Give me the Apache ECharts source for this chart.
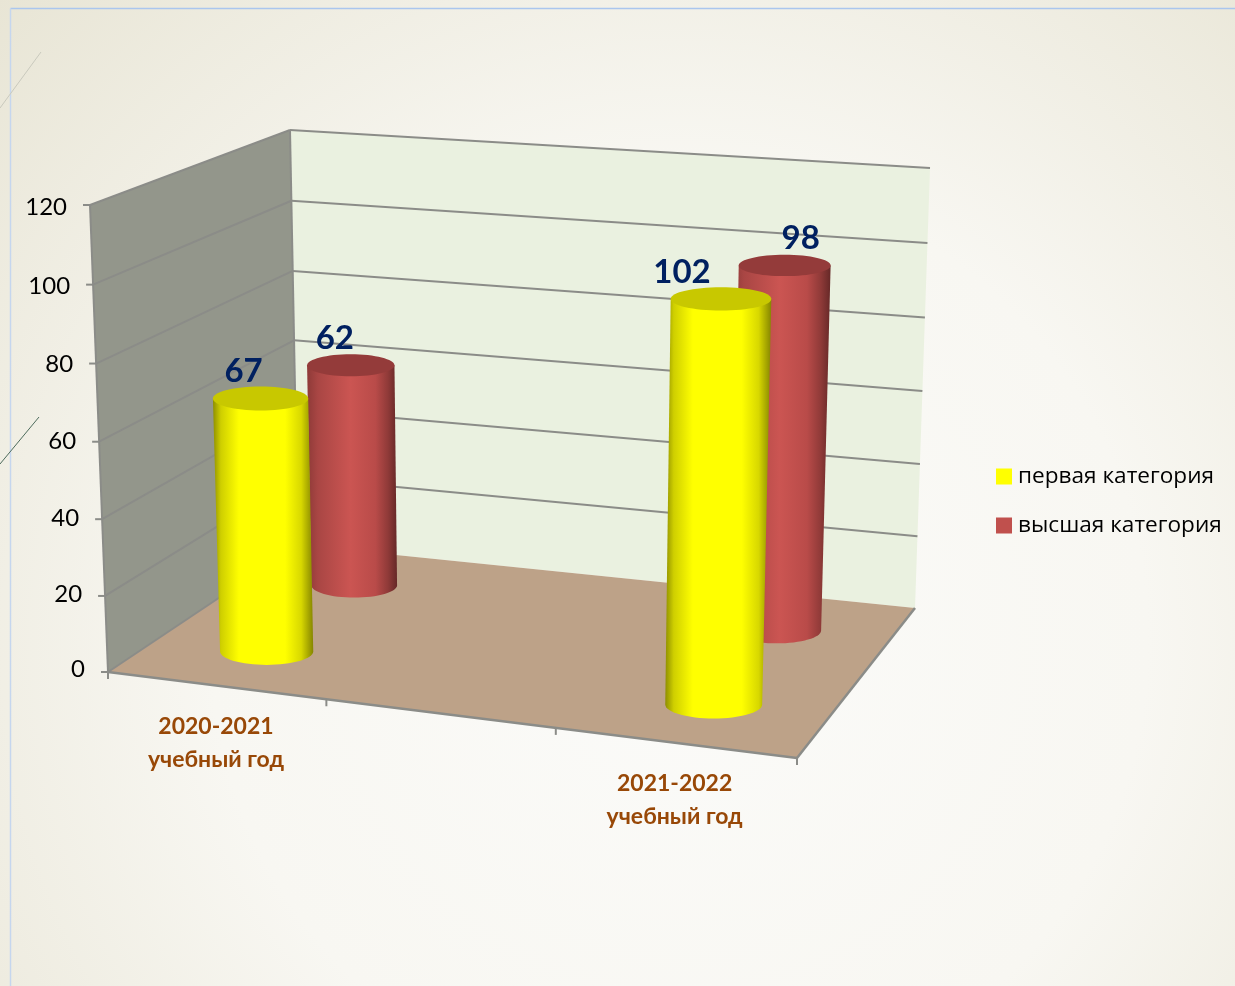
<!DOCTYPE html>
<html>
<head>
<meta charset="utf-8">
<title>Категории</title>
<style>html,body{margin:0;padding:0;background:#f8f7f2}#main{width:1235px;height:986px}</style>
<script src="https://cdn.jsdelivr.net/npm/echarts@6/dist/echarts.min.js"></script>
</head>
<body>
<div id="main"></div>
<script>
var categories = ['2020-2021\nучебный год', '', '2021-2022\nучебный год'];
var seriesNames = ['первая категория', 'высшая категория'];
var firstValues = [67, null, 102];
var highValues = [62, null, 98];
var tickLabels = [0, 20, 40, 60, 80, 100, 120];

// corners of the room on screen: front-left, front-right, back-right, back-left
var floorQuad = [[108, 672], [797, 758], [915, 608], [298, 545]];
var ceilQuad = [[90, 205], [811, 258], [930, 168], [290, 130]];

// unit square -> quad
function makeHomography(q) {
    var dx1 = q[1][0] - q[2][0], dx2 = q[3][0] - q[2][0], sx = q[0][0] - q[1][0] + q[2][0] - q[3][0];
    var dy1 = q[1][1] - q[2][1], dy2 = q[3][1] - q[2][1], sy = q[0][1] - q[1][1] + q[2][1] - q[3][1];
    var den = dx1 * dy2 - dx2 * dy1;
    var g = (sx * dy2 - dx2 * sy) / den, h = (dx1 * sy - sx * dy1) / den;
    var a = q[1][0] - q[0][0] + g * q[1][0], b = q[3][0] - q[0][0] + h * q[3][0];
    var d = q[1][1] - q[0][1] + g * q[1][1], e = q[3][1] - q[0][1] + h * q[3][1];
    return function (u, v) {
        var w = g * u + h * v + 1;
        return [(a * u + b * v + q[0][0]) / w, (d * u + e * v + q[0][1]) / w];
    };
}
var floorH = makeHomography(floorQuad);
var ceilH = makeHomography(ceilQuad);

// u along the categories, t up the value axis, z into the depth
function project(u, t, z) {
    var p0 = floorH(u, z), p1 = ceilH(u, z);
    var k = t / (1 + 0.028 * (1 - t)); // slight perspective upwards
    return [p0[0] + (p1[0] - p0[0]) * k, p0[1] + (p1[1] - p0[1]) * k];
}

// flat hidden grid gives the scales, these turn its pixels into 0..1
function toU(params, px) {
    return (px - params.coordSys.x) / params.coordSys.width;
}
function toT(params, py) {
    return (params.coordSys.y + params.coordSys.height - py) / params.coordSys.height;
}

var lineColor = '#8b8c88';
var calibriLike = '"Lato", "Open Sans"';

function poly(points, fill, z2) {
    return { type: 'polygon', z2: z2 || 0, shape: { points: points }, style: { fill: fill, stroke: null } };
}
function line(a, b, width) {
    return {
        type: 'line', z2: 1,
        shape: { x1: a[0], y1: a[1], x2: b[0], y2: b[1] },
        style: { stroke: lineColor, lineWidth: width || 2 }
    };
}

function renderRoom(params, api) {
    var kids = [];
    kids.push(poly([project(0, 0, 0), project(0, 1, 0), project(0, 1, 1), project(0, 0, 1)], '#93968b'));
    kids.push(poly([project(0, 0, 1), project(0, 1, 1), project(1, 1, 1), project(1, 0, 1)], '#eaf1e0'));
    kids.push(poly([project(0, 0, 0), project(1, 0, 0), project(1, 0, 1), project(0, 0, 1)], '#bda288'));

    tickLabels.forEach(function (tick) {
        var t = toT(params, api.coord([0, tick])[1]);
        var a = project(0, t, 0), b = project(0, t, 1), c = project(1, t, 1);
        if (tick > 0) {
            kids.push(line(a, b));
            kids.push(line(b, c));
        }
        kids.push(line([a[0] - 7, a[1]], a));
        kids.push({
            type: 'text', z2: 2,
            style: {
                x: a[0] - 23, y: a[1] + t * 5 - 3, text: String(tick), align: 'right', verticalAlign: 'middle',
                fill: '#000', font: '24px ' + calibriLike
            }
        });
    });
    // room edges
    kids.push(line(project(0, 0, 0), project(0, 1, 0)));
    kids.push(line(project(0, 0, 1), project(0, 1, 1)));
    kids.push(line(project(0, 0, 0), project(1, 0, 0), 2.5));
    kids.push(line(project(1, 0, 0), project(1, 0, 1), 2.5));
    kids.push(line(project(0, 0, 0), project(0, 0, 1)));

    categories.forEach(function (name, i) {
        var tickAt = project(i / categories.length + (i ? 0.006 : 0), 0, 0);
        kids.push(line(tickAt, [tickAt[0], tickAt[1] + 7]));
        if (name) {
            var p = project((i + 0.5) / categories.length, 0, 0);
            kids.push({
                type: 'text', z2: 2,
                style: {
                    x: p[0] + 2.5, y: p[1] + 57.5, text: name, align: 'center', verticalAlign: 'middle',
                    fill: '#984807', font: 'bold 23px ' + calibriLike, lineHeight: 33
                }
            });
        }
    });
    var end = project(1, 0, 0);
    kids.push(line(end, [end[0], end[1] + 7]));
    return { type: 'group', children: kids };
}

// half width on screen: perspective along u is flatter for the columns than for the room
function halfWidth(u, t, opts) {
    var um = 0.5 + (u - 0.5) * 0.3;
    return (project(um + opts.radius, t, opts.depth)[0] - project(um - opts.radius, t, opts.depth)[0]) / 2;
}

// one cylinder, drawn in screen space from the projected centres
function makeCylinder(opts) {
    return function (params, api) {
        var value = api.value(1);
        if (isNaN(value)) return null;
        var pos = api.coord([api.value(0), value]);
        var u = toU(params, pos[0]) + opts.shift, t = toT(params, pos[1]);
        var top = project(u, t, opts.depth), base = project(u, 0, opts.depth);
        var aTop = halfWidth(u, t, opts), aBase = halfWidth(u, 0, opts);
        var bTop = aTop * (0.29 - 0.07 * t), bBase = aBase * 0.29;
        var points = [[top[0] - aTop, top[1]], [top[0] + aTop, top[1]]];
        for (var i = 0; i <= 32; i++) {
            var ang = Math.PI * i / 32;
            points.push([base[0] + aBase * Math.cos(ang), base[1] + bBase * Math.sin(ang)]);
        }
        return {
            type: 'group',
            children: [{
                type: 'polygon',
                shape: { points: points },
                style: { fill: new echarts.graphic.LinearGradient(0, 0, 1, 0, opts.stops) }
            }, {
                type: 'ellipse',
                shape: { cx: top[0], cy: top[1], rx: aTop, ry: bTop },
                style: { fill: opts.cap }
            }, {
                type: 'text', z2: 5,
                style: {
                    x: top[0] + opts.labelDx[params.dataIndex], y: top[1] - 27, text: String(value),
                    align: 'center', verticalAlign: 'middle',
                    fill: '#002060', font: 'bold 33px ' + calibriLike
                }
            }]
        };
    };
}

var yellowStops = [
    { offset: 0, color: '#8e8e00' }, { offset: 0.08, color: '#cfcf00' }, { offset: 0.26, color: '#ffff00' },
    { offset: 0.72, color: '#ffff00' }, { offset: 0.88, color: '#d8d800' }, { offset: 1, color: '#858500' }
];
var redStops = [
    { offset: 0, color: '#8e3a38' }, { offset: 0.12, color: '#a94644' }, { offset: 0.48, color: '#cb5552' },
    { offset: 0.76, color: '#b94b49' }, { offset: 0.9, color: '#8f3a38' }, { offset: 1, color: '#652827' }
];

function toData(values) {
    return values.map(function (v, i) { return [i, v === null ? NaN : v]; });
}

var myChart = echarts.init(document.getElementById('main'));
var option = {
    animation: false,
    backgroundColor: {
        type: 'radial', x: 0.55, y: 0.65, r: 0.95,
        colorStops: [
            { offset: 0, color: '#fbfbf9' }, { offset: 0.5, color: '#f8f7f2' }, { offset: 1, color: '#e8e5d5' }
        ]
    },
    grid: { left: 100, right: 100, top: 100, bottom: 100 },
    xAxis: { type: 'category', data: categories, show: false },
    yAxis: { type: 'value', min: 0, max: 120, interval: 20, show: false },
    legend: {
        orient: 'vertical', left: 991, top: 460, itemWidth: 16, itemHeight: 16, itemGap: 26, icon: 'rect',
        data: seriesNames,
        textStyle: { color: '#000', fontSize: 22.6, fontFamily: 'Open Sans', padding: [0, 0, 0, 1] }
    },
    graphic: [
        { type: 'line', shape: { x1: 10.5, y1: 8.5, x2: 1235, y2: 8.5 }, style: { stroke: '#aac6ee', lineWidth: 1.5 } },
        { type: 'line', shape: { x1: 10.5, y1: 8.5, x2: 10.5, y2: 986 }, style: { stroke: '#c5d6ee', lineWidth: 1.5 } },
        { type: 'line', shape: { x1: 0, y1: 108, x2: 41, y2: 52 }, style: { stroke: '#c9c9bd', lineWidth: 1 } },
        { type: 'line', shape: { x1: 0, y1: 464, x2: 39, y2: 417 }, style: { stroke: '#4d6b5c', lineWidth: 1 } }
    ],
    series: [
        { type: 'custom', silent: true, z: 1, renderItem: renderRoom, data: [[0, 0]], clip: false },
        {
            type: 'custom', name: seriesNames[1], z: 2, data: toData(highValues), clip: false,
            itemStyle: { color: '#c0504d' },
            renderItem: makeCylinder({ depth: 0.745, radius: 0.069, shift: 0.004, stops: redStops, cap: '#943b3a', labelDx: [-16, 0, 16] })
        },
        {
            type: 'custom', name: seriesNames[0], z: 3, data: toData(firstValues), clip: false,
            itemStyle: { color: '#ffff00' },
            renderItem: makeCylinder({ depth: 0.24, radius: 0.071, shift: 0.009, stops: yellowStops, cap: '#c8c800', labelDx: [-17, 0, -39] })
        }
    ]
};
myChart.setOption(option);
</script>
</body>
</html>
